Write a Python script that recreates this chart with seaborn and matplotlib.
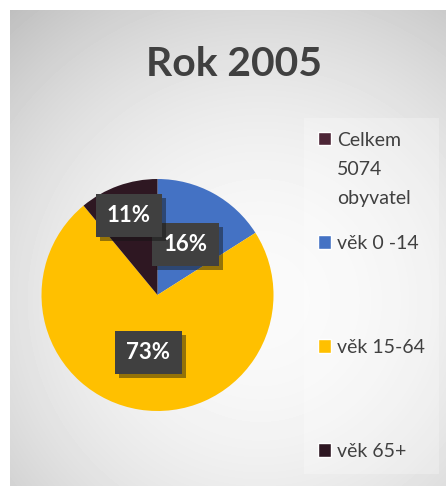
import numpy as np
import matplotlib
matplotlib.use("Agg")
import matplotlib.pyplot as plt
import matplotlib.patheffects as pe
from matplotlib.patches import Patch
import seaborn as sns

# ---- data ----
title = "Rok 2005"
categories = ["věk 0 -14", "věk 15-64", "věk 65+"]
shares = [16, 73, 11]
total_label = "Celkem\n5074\nobyvatel"

# ---- style ----
slice_colors = ["#4472C4", "#FFC000", "#2E1722"]
total_color = "#4C2536"
label_dist = [0.5, 0.5, 0.73]

sns.set_theme(style="white")
plt.rcParams["font.family"] = ["Lato", "DejaVu Sans"]

W, H = 446, 486
fig = plt.figure(figsize=(W / 100, H / 100), dpi=100)
fig.patch.set_facecolor("white")

# background panel with soft radial gradient
bg = fig.add_axes([10 / W, 0, (W - 10) / W, (H - 10) / H])
yy, xx = np.mgrid[10:H, 10:W]
d2 = ((xx - 260) ** 2 + (yy - 300) ** 2) / 330 ** 2
g = np.clip(250 - 44 * d2, 188, 252) / 255
bg.imshow(g, cmap="gray", vmin=0, vmax=1, aspect="auto", interpolation="bilinear")
bg.set_axis_off()

# pie
R = 116
cx, cy = 157.5, 295
lim = 1.3
half = R * lim
ax = fig.add_axes([(cx - half) / W, (H - cy - half) / H, 2 * half / W, 2 * half / H])
wedges, _ = ax.pie(shares, colors=slice_colors, startangle=90, counterclock=False,
                   radius=1, wedgeprops=dict(linewidth=0))
ax.set_xlim(-lim, lim)
ax.set_ylim(-lim, lim)
ax.set_axis_off()

for w, s, dist in zip(wedges, shares, label_dist):
    ang = np.deg2rad((w.theta1 + w.theta2) / 2)
    t = ax.text(dist * np.cos(ang), dist * np.sin(ang), f"{s}%", ha="center", va="center",
                color="white", fontsize=16, fontweight="bold",
                bbox=dict(boxstyle="square,pad=0.5", fc="#404040", ec="none"))
    t.get_bbox_patch().set_path_effects([pe.SimplePatchShadow(offset=(3, -3), alpha=0.45),
                                         pe.Normal()])

# title
fig.text(233.5 / W, 1 - 76 / H, title, ha="center", va="baseline", fontsize=29.4,
         fontweight="bold", color="#404040")

# legend
handles = [Patch(facecolor=total_color)] + [Patch(facecolor=c) for c in slice_colors]
labels = [total_label] + [c + "\n\n" for c in categories[:-1]] + [categories[-1]]
leg = fig.legend(handles, labels, loc="upper left", bbox_to_anchor=(304 / W, 1 - 118 / H),
                 fontsize=14, frameon=True, fancybox=False, facecolor="white",
                 framealpha=0.25, edgecolor="none", handlelength=0.7, handleheight=0.7,
                 handletextpad=0.3, labelspacing=1.45, borderpad=0.7, borderaxespad=0,
                 labelcolor="#404040")
for t in leg.get_texts():
    t.set_linespacing(1.88)
for col in leg._legend_handle_box.get_children():
    for item in col.get_children():
        item.align = "top"

fig.savefig("out.png", dpi=100)
